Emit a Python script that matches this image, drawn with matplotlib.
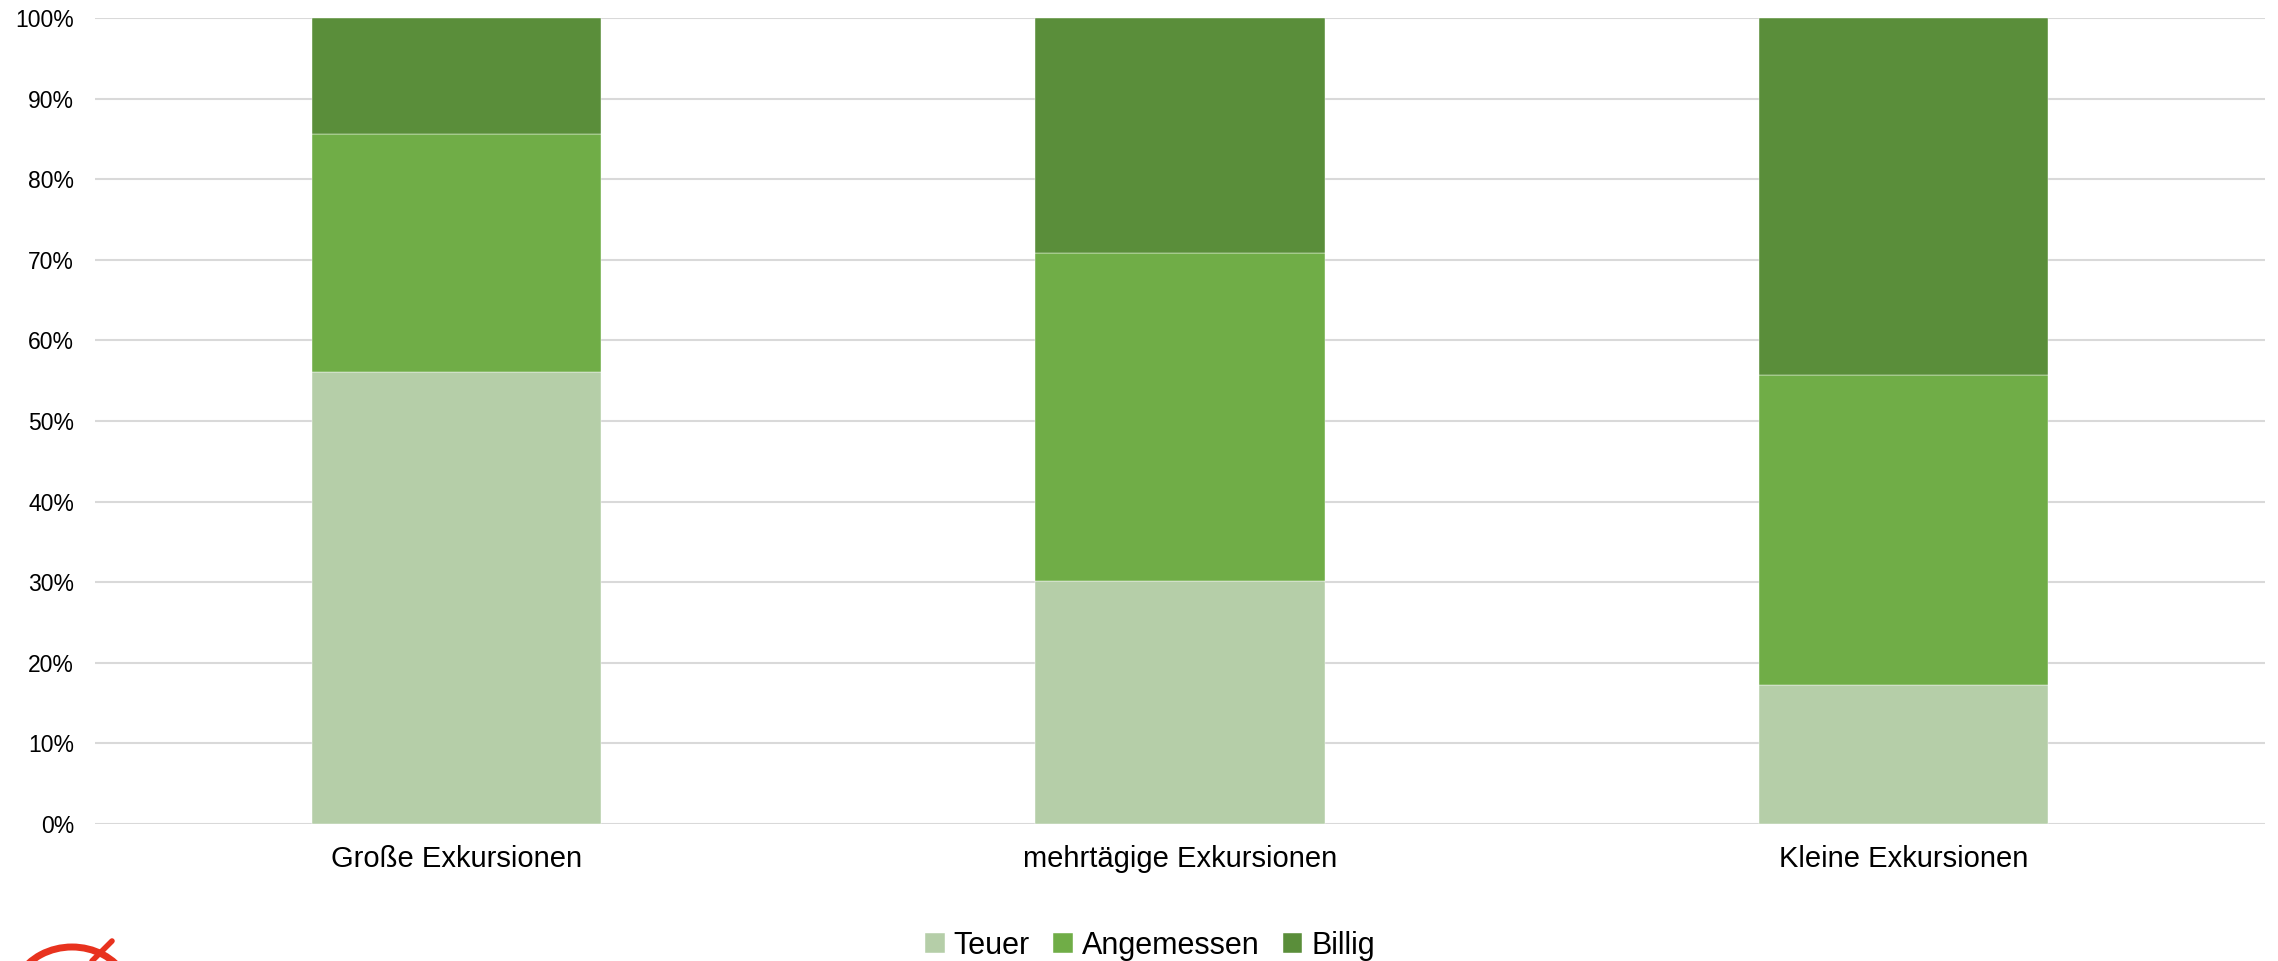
import numpy as np
import matplotlib
matplotlib.use("Agg")
import matplotlib.pyplot as plt
from matplotlib.patches import Arc
from matplotlib.ticker import PercentFormatter

plt.rcParams['font.family'] = ['Liberation Sans', 'DejaVu Sans']

# daten (anteile in %)
kategorien = ["Große Exkursionen", "mehrtägige Exkursionen", "Kleine Exkursionen"]
serien = ["Teuer", "Angemessen", "Billig"]
teuer = [56.1, 30.1, 17.2]
angemessen = [29.5, 40.8, 38.5]
billig = [14.4, 29.1, 44.3]
farben = ["#b5cea8", "#70ad47", "#5a8e3a"]

fig = plt.figure(figsize=(22.78, 9.61), dpi=100)
ax = fig.add_axes([95/2278, 1 - 824/961, 2170/2278, 806/961])

x = np.arange(len(kategorien))
unten = np.zeros(len(kategorien))
for name, werte, farbe in zip(serien, [teuer, angemessen, billig], farben):
    ax.bar(x, werte, 0.4, bottom=unten, color=farbe, label=name,
           edgecolor="white", linewidth=0.3, zorder=3)
    unten += np.array(werte)

ax.set_xlim(-0.5, 2.5)
ax.set_ylim(0, 100)
ax.set_yticks(np.arange(0, 101, 10))
ax.yaxis.set_major_formatter(PercentFormatter(decimals=0))
ax.grid(axis="y", color="#d9d9d9", linewidth=1.5, zorder=0)
for s in ax.spines.values():
    s.set_visible(False)
ax.tick_params(axis="y", length=0, labelsize=16.5, pad=15)
ax.tick_params(axis="x", length=0, labelsize=21, pad=15)
ax.set_xticks(x)
ax.set_xticklabels(kategorien)

fig.legend(loc="center", bbox_to_anchor=(1150/2278, 1 - 946/961), ncol=3,
           frameon=False, fontsize=22, handlelength=0.65, handleheight=0.65,
           handletextpad=0.3, columnspacing=0.75)

# logo unten links (roter bogen)
lax = fig.add_axes([0, 0, 1, 1])
lax.set_xlim(0, 2278)
lax.set_ylim(961, 0)
lax.axis("off")
lax.add_patch(Arc((72, 1000), 120, 106, theta1=205, theta2=335, color="#e8321e", lw=5))
lax.plot([92, 112], [961, 941], color="#e8321e", lw=4, solid_capstyle="round")

fig.savefig("out.png", dpi=100)
